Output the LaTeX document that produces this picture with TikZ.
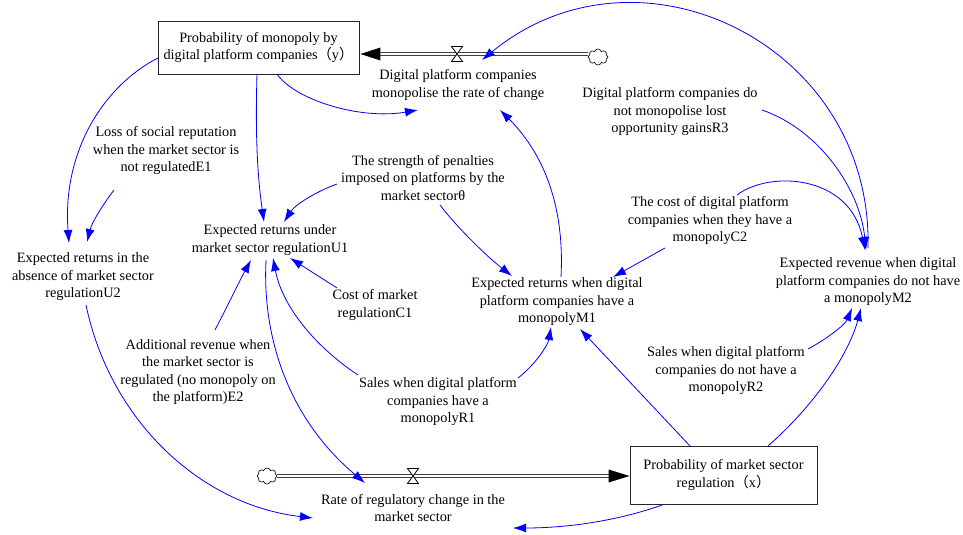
\documentclass[tikz,border=0pt]{standalone}
\usepackage{fontspec}
\setmainfont{Liberation Serif}
\newfontfamily\cjkfont{Noto Sans CJK SC}
\usetikzlibrary{arrows.meta,calc,shapes.symbols}
\newcommand{\fpar}[1]{{\cjkfont （}#1{\cjkfont ）}}
\begin{document}
\begin{tikzpicture}[x=1pt,y=-1pt,
  txt/.style={align=center,inner sep=1pt,font=\fontsize{14.3}{17.5}\selectfont},
  stockbox/.style={txt,draw=black!85,line width=0.9pt},
  link/.style={draw=blue,line width=0.8pt,-{Latex[length=13pt,width=9pt]}},
  pipe/.style={draw=black!75,double=white,double distance=2.2pt,line width=1.1pt},
  valvebox/.style={draw=black,fill=white,line width=0.8pt},
  cloudsrc/.style={cloud,cloud puffs=8,cloud ignores aspect,draw=black,fill=white,minimum width=20pt,minimum height=16pt,inner sep=0pt,line width=0.6pt}]
\useasboundingbox[fill=white] (0,0) rectangle (963,535);

% stocks and variables
\node[stockbox,minimum width=201pt,minimum height=53pt] (ybox) at (258.5,47.5) {Probability of monopoly by\\digital platform companies\fpar{y}};
\node[txt] (ft) at (458,85) {Digital platform companies\\monopolise the rate of change};
\node[txt] (r3) at (670,112) {Digital platform companies do\\not monopolise lost\\opportunity gainsR3};
\node[txt] (c2) at (710,221) {The cost of digital platform\\companies when they have a\\monopolyC2};
\node[txt] (m2) at (868,282) {Expected revenue when digital\\platform companies do not have\\a monopolyM2};
\node[txt] (m1) at (557,302) {Expected returns when digital\\platform companies have a\\monopolyM1};
\node[txt] (th) at (423,178) {The strength of penalties\\imposed on platforms by the\\market sectorθ};
\node[txt] (u1) at (270,240) {Expected returns under\\market sector regulationU1};
\node[txt] (e1) at (166,151) {Loss of social reputation\\when the market sector is\\not regulatedE1};
\node[txt] (u2) at (83,277) {Expected returns in the\\absence of market sector\\regulationU2};
\node[txt] (c1) at (375,305) {Cost of market\\regulationC1};
\node[txt] (e2) at (198,372) {Additional revenue when\\the market sector is\\regulated (no monopoly on\\the platform)E2};
\node[txt] (r1) at (438,402) {Sales when digital platform\\companies have a\\monopolyR1};
\node[txt] (r2) at (726,371) {Sales when digital platform\\companies do not have a\\monopolyR2};
\node[stockbox,minimum width=187pt,minimum height=58pt] (xbox) at (723.5,475) {Probability of market sector\\regulation\fpar{x}};
\node[txt] (fb) at (413,508) {Rate of regulatory change in the\\market sector};

% top flow
\coordinate (vt) at (457,54);
\node[cloudsrc] (cloudT) at (598,57) {};
\draw[pipe] (cloudT.west |- vt) -- ($(ybox.east)+(20,6.5)$);
\fill[black] ($(ybox.east)+(1,6.5)$) -- ++(20,-6.5) -- ++(0,13) -- cycle;
\draw[valvebox] ($(vt)+(-5.5,-7.5)$) -- ++(11,0) -- ++(-11,15) -- ++(11,0) -- cycle;

% bottom flow
\coordinate (vb) at (413,476);
\node[cloudsrc] (cloudB) at (267,476) {};
\draw[pipe] (cloudB.east |- vb) -- ($(xbox.west)+(-20,1)$);
\fill[black] ($(xbox.west)+(0,1)$) -- ++(-21,-6.5) -- ++(0,13) -- cycle;
\draw[valvebox] ($(vb)+(-5.5,-7.5)$) -- ++(11,0) -- ++(-11,15) -- ++(11,0) -- cycle;

% links
\draw[link] ($(ybox)+(18.5,26.5)$) .. controls (295,100) and (360,120) .. ($(ft)+(-40,25)$);
\draw[link] ($(ybox)+(-1.5,26.5)$) .. controls (255,140) and (258,180) .. ($(u1)+(-6,-18)$);
\draw[link] ($(ybox)+(-100.5,10.5)$) .. controls (105,85) and (62,150) .. ($(u2)+(-14,-34)$);
\draw[link] ($(e1)+(-52,39)$) .. controls (104,203) and (92,222) .. ($(u2)+(4,-35)$);
\draw[link] ($(th)+(-86,6)$) .. controls (315,192) and (295,205) .. ($(u1)+(14,-18)$);
\draw[link] ($(th)+(17,27)$) .. controls (455,225) and (485,255) .. ($(m1)+(-45,-26)$);
\draw[link] ($(m1)+(4,-25)$) .. controls (565,200) and (540,150) .. ($(ft)+(42,25)$);
\draw[link] ($(c2)+(-45,27)$) -- ($(m1)+(56,-25)$);
\draw[link] ($(m2)+(0,-34)$) .. controls (873,45) and (639,-69) .. ($(ft)+(24,-25)$);
\draw[link] ($(r3)+(92,-2)$) .. controls (820,130) and (860,190) .. ($(m2)+(-2,-32)$);
\draw[link] ($(c2)+(27,-26)$) .. controls (770,170) and (850,175) .. ($(m2)+(-3,-32)$);
\draw[link] ($(r2)+(82,-22)$) .. controls (825,340) and (845,325) .. ($(m2)+(-16,26)$);
\draw[link] ($(xbox)+(44.5,-29)$) .. controls (820,400) and (850,350) .. ($(m2)+(-7,26)$);
\draw[link] ($(xbox)+(-33.5,-29)$) -- ($(m1)+(23,27)$);
\draw[link] ($(r1)+(80,-24)$) .. controls (535,365) and (548,345) .. ($(m1)+(-6,25)$);
\draw[link] ($(r1)+(-80,-27)$) .. controls (320,350) and (283,310) .. ($(u1)+(3,18)$);
\draw[link] ($(c1)+(-38,-17)$) -- ($(u1)+(20,18)$);
\draw[link] ($(e2)+(17,-42)$) .. controls (228,305) and (240,280) .. ($(u1)+(-19,20)$);
\draw[link] ($(u1)+(-4,20)$) .. controls (262,340) and (290,420) .. ($(fb)+(-48,-25)$);
\draw[link] ($(u2)+(3,28)$) .. controls (110,420) and (200,505) .. ($(fb)+(-100,10)$);
\draw[link] ($(xbox)+(-61.5,30)$) .. controls (620,520) and (570,528) .. ($(fb)+(100,20)$);
\end{tikzpicture}
\end{document}
